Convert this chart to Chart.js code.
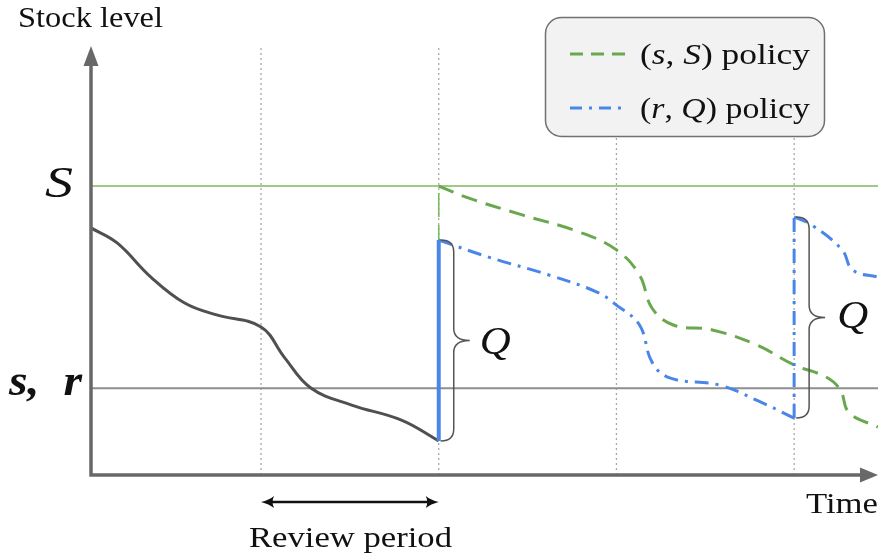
<!DOCTYPE html>
<html>
<head>
<meta charset="utf-8">
<script src="https://cdn.jsdelivr.net/npm/chart.js@4/dist/chart.umd.min.js"></script>
<style>
  html, body { margin: 0; padding: 0; background: #fff; }
  canvas { display: block; }
</style>
</head>
<body>
<canvas id="myChart" width="878" height="557"></canvas>
<script>
const ctx = document.getElementById('myChart')

// review moments and the two reference levels
const reviewTimes = [1, 2, 3, 4]
const levelS = 100
const levelSmall = 30

// stock before the first order
const stockTimes = [0.043, 0.19, 0.38, 0.57, 0.75, 1.0, 1.13, 1.28, 1.51, 1.79, 2.0]
const stockLevels = [85.5, 80.3, 68.5, 59.5, 55.4, 51.2, 40.8, 30.1, 24.2, 19.0, 11.8]

// (s, S) policy
const sSTimes = [2.0, 2.17, 2.47, 2.79, 3.0, 3.13, 3.2, 3.32, 3.54, 3.79, 4.0, 4.18, 4.26, 4.31, 4.472]
const sSLevels = [100, 95.8, 90.0, 84.1, 77.9, 69.2, 57.8, 51.9, 50.2, 45.0, 38.1, 33.9, 29.4, 21.5, 16.6]

// (r, Q) policy, order arrives at t = 4
const rQTimes = [2.0, 2.28, 2.62, 2.89, 3.0, 3.13, 3.2, 3.3, 3.58, 3.81, 4.0, 4.0, 4.1, 4.27, 4.33, 4.472]
const rQLevels = [81.3, 75.4, 69.2, 63.3, 58.8, 51.9, 39.1, 33.6, 31.1, 25.3, 19.7, 89.3, 86.5, 77.9, 70.9, 68.5]

const xMin = 0.043
const xMax = 4.472
const yMax = 148.8

const green = '#6aa84f'
const blue = '#4a86e8'
const axisGray = '#686868'

const toPoints = (xs, ys) => xs.map((x, i) => ({ x: x, y: ys[i] }))

const reviewPoints = []
reviewTimes.forEach(t => {
  reviewPoints.push({ x: t, y: 0 }, { x: t, y: yMax }, { x: t, y: null })
})

const firstOrderTime = stockTimes[stockTimes.length - 1]
const firstOrderFrom = stockLevels[stockLevels.length - 1]
const firstOrderTo = rQLevels[0]
const secondOrderIdx = rQTimes.indexOf(4.0)
const secondOrderTime = rQTimes[secondOrderIdx]
const secondOrderFrom = rQLevels[secondOrderIdx]
const secondOrderTo = rQLevels[secondOrderIdx + 1]

const rQPoints = toPoints(rQTimes, rQLevels)

const serif = '"Liberation Serif", "Times New Roman", Times, serif'

function fitText(c, text, x, y, width, font) {
  c.font = font
  const w = c.measureText(text).width
  c.save()
  c.translate(x, y)
  c.scale(width / w, 1)
  c.fillText(text, 0, 0)
  c.restore()
}

function richText(c, parts, x, y, width, size) {
  let total = 0
  parts.forEach(p => {
    c.font = (p[1] ? 'italic ' : '') + size + 'px ' + serif
    total += c.measureText(p[0]).width
  })
  c.save()
  c.translate(x, y)
  c.scale(width / total, 1)
  let cx = 0
  parts.forEach(p => {
    c.font = (p[1] ? 'italic ' : '') + size + 'px ' + serif
    c.fillText(p[0], cx, 0)
    cx += c.measureText(p[0]).width
  })
  c.restore()
}

function brace(c, xb, yTop, yBot) {
  const x1 = xb + 13
  const x2 = xb + 29
  const r = 12
  const yMid = (yTop + yBot) / 2
  c.beginPath()
  c.moveTo(xb, yTop)
  c.quadraticCurveTo(x1, yTop, x1, yTop + r)
  c.lineTo(x1, yMid - r)
  c.quadraticCurveTo(x1, yMid, x2, yMid)
  c.quadraticCurveTo(x1, yMid, x1, yMid + r)
  c.lineTo(x1, yBot - r)
  c.quadraticCurveTo(x1, yBot, xb, yBot)
  c.stroke()
  return { tip: x2, mid: yMid }
}

function arrowHead(c, tx, ty, dir) {
  c.beginPath()
  c.moveTo(tx, ty)
  c.quadraticCurveTo(tx - dir * 8, ty - 2, tx - dir * 13, ty - 6)
  c.quadraticCurveTo(tx - dir * 10, ty, tx - dir * 13, ty + 6)
  c.quadraticCurveTo(tx - dir * 8, ty + 2, tx, ty)
  c.fill()
}

const decorations = {
  id: 'decorations',
  afterDraw(chart) {
    const c = chart.ctx
    const xs = chart.scales.x
    const ys = chart.scales.y
    const area = chart.chartArea
    c.save()

    // axes with arrows
    c.strokeStyle = axisGray
    c.fillStyle = axisGray
    c.lineWidth = 3.5
    c.beginPath()
    c.moveTo(area.left, area.bottom)
    c.lineTo(area.left, 62)
    c.moveTo(area.left - 1.7, area.bottom)
    c.lineTo(862, area.bottom)
    c.stroke()
    c.beginPath()
    c.moveTo(area.left, 46)
    c.lineTo(area.left - 7.5, 66)
    c.lineTo(area.left + 7.5, 66)
    c.closePath()
    c.fill()
    c.beginPath()
    c.moveTo(878, area.bottom)
    c.lineTo(860, area.bottom - 7.5)
    c.lineTo(860, area.bottom + 7.5)
    c.closePath()
    c.fill()

    // axis texts
    c.fillStyle = '#111'
    c.textAlign = 'left'
    c.textBaseline = 'alphabetic'
    fitText(c, 'Stock level', 18, 27, 145, '29px ' + serif)
    fitText(c, 'Time', 806, 513, 72, '29px ' + serif)
    fitText(c, 'S', 45, 197, 28, 'italic 44px ' + serif)
    fitText(c, 's,  r', 9, 395, 73, 'bold italic 44px ' + serif)

    // review period arrow
    const r0 = xs.getPixelForValue(reviewTimes[0])
    const r1 = xs.getPixelForValue(reviewTimes[1])
    c.strokeStyle = '#111'
    c.fillStyle = '#111'
    c.lineWidth = 2.5
    c.beginPath()
    c.moveTo(r0 + 6, 502)
    c.lineTo(r1 - 6, 502)
    c.stroke()
    arrowHead(c, r0, 502, -1)
    arrowHead(c, r1, 502, 1)
    fitText(c, 'Review period', 249, 547, 203, '30px ' + serif)

    // braces for the order quantity Q
    c.strokeStyle = '#555'
    c.lineWidth = 1.5
    const b1 = brace(c, xs.getPixelForValue(firstOrderTime) + 2,
      ys.getPixelForValue(firstOrderTo), ys.getPixelForValue(firstOrderFrom))
    const b2 = brace(c, xs.getPixelForValue(secondOrderTime) + 2,
      ys.getPixelForValue(secondOrderTo), ys.getPixelForValue(secondOrderFrom))
    c.fillStyle = '#111'
    fitText(c, 'Q', b1.tip + 10, b1.mid + 14, 31, 'italic 41px ' + serif)
    fitText(c, 'Q', b2.tip + 12, b2.mid + 10, 31, 'italic 41px ' + serif)

    // legend box
    c.fillStyle = '#f2f2f2'
    c.strokeStyle = '#707070'
    c.lineWidth = 1.5
    c.beginPath()
    c.roundRect(545.5, 17.5, 279, 119, 16)
    c.fill()
    c.stroke()
    c.lineWidth = 3
    c.strokeStyle = green
    c.setLineDash([13, 8])
    c.beginPath()
    c.moveTo(570, 54)
    c.lineTo(626, 54)
    c.stroke()
    c.strokeStyle = blue
    c.setLineDash([12, 7, 3, 7])
    c.beginPath()
    c.moveTo(570, 108)
    c.lineTo(627, 108)
    c.stroke()
    c.setLineDash([])
    c.fillStyle = '#111'
    richText(c, [['(', false], ['s', true], [', ', false], ['S', true], [') policy', false]], 640, 64, 170, 30)
    richText(c, [['(', false], ['r', true], [', ', false], ['Q', true], [') policy', false]], 640, 118, 170, 30)

    c.restore()
  }
}

new Chart(ctx, {
  type: 'line',
  data: {
    datasets: [
      {
        data: reviewPoints,
        borderColor: '#a8a8a8',
        borderWidth: 1.3,
        borderDash: [2, 3],
        spanGaps: false,
        order: 10
      },
      {
        data: [{ x: xMin, y: levelS }, { x: xMax, y: levelS }],
        borderColor: '#7cba5c',
        borderWidth: 1.6,
        order: 9
      },
      {
        data: [{ x: xMin, y: levelSmall }, { x: xMax, y: levelSmall }],
        borderColor: '#8e8e8e',
        borderWidth: 2,
        order: 8
      },
      {
        data: toPoints(stockTimes, stockLevels),
        borderColor: '#505050',
        borderWidth: 3,
        tension: 0.4,
        order: 5
      },
      {
        data: [{ x: firstOrderTime, y: firstOrderFrom }, { x: firstOrderTime, y: levelS }],
        borderColor: '#7cba5c',
        borderWidth: 1.6,
        borderDash: [24, 8],
        order: 6
      },
      {
        data: toPoints(sSTimes, sSLevels),
        borderColor: green,
        borderWidth: 3,
        borderDash: [16, 9],
        tension: 0.4,
        order: 4
      },
      {
        data: [{ x: firstOrderTime, y: firstOrderFrom }, { x: firstOrderTime, y: firstOrderTo }],
        borderColor: blue,
        borderWidth: 4,
        order: 3
      },
      {
        data: rQPoints.slice(0, secondOrderIdx + 1),
        borderColor: blue,
        borderWidth: 3,
        borderDash: [14, 7, 3, 7],
        tension: 0.4,
        order: 2
      },
      {
        data: rQPoints.slice(secondOrderIdx, secondOrderIdx + 2),
        borderColor: blue,
        borderWidth: 3,
        borderDash: [14, 7, 3, 7],
        order: 2
      },
      {
        data: rQPoints.slice(secondOrderIdx + 1),
        borderColor: blue,
        borderWidth: 3,
        borderDash: [14, 7, 3, 7],
        tension: 0.4,
        order: 2
      }
    ]
  },
  options: {
    responsive: false,
    animation: false,
    layout: { padding: { left: 91, right: 0, top: 45, bottom: 82 } },
    elements: { point: { radius: 0, hoverRadius: 0 } },
    scales: {
      x: { type: 'linear', min: xMin, max: xMax, display: false },
      y: { type: 'linear', min: 0, max: yMax, display: false }
    },
    plugins: {
      legend: { display: false },
      tooltip: { enabled: false }
    }
  },
  plugins: [decorations]
})
</script>
</body>
</html>
